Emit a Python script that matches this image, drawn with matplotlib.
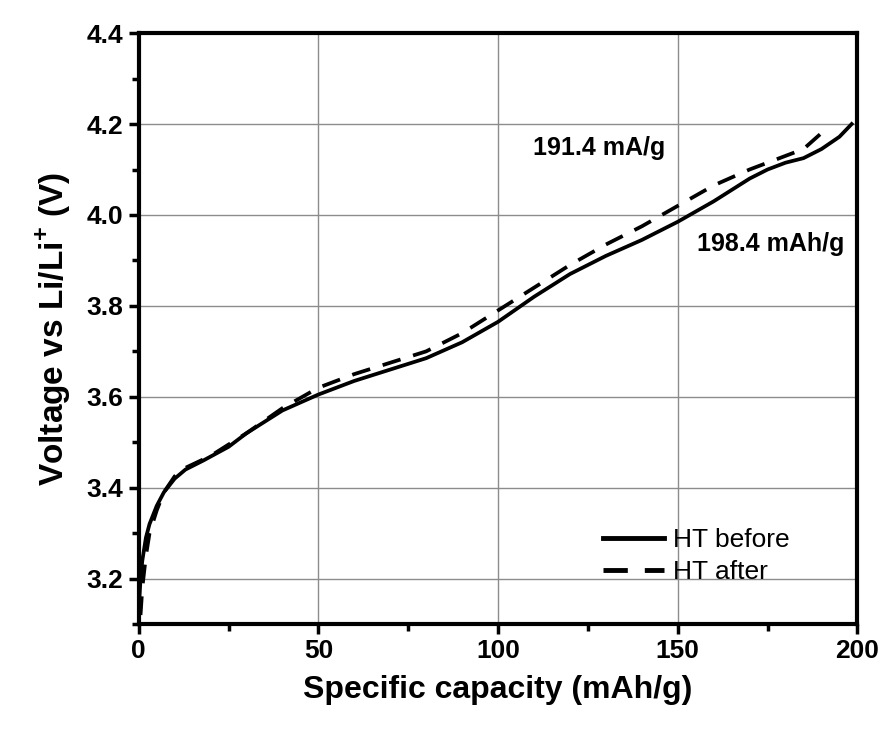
import matplotlib
matplotlib.use("Agg")
import matplotlib.pyplot as plt
import numpy as np
from matplotlib.ticker import MultipleLocator

plt.rcParams['font.family'] = ['Liberation Sans', 'DejaVu Sans']
plt.rcParams['mathtext.fontset'] = 'custom'
plt.rcParams['mathtext.rm'] = 'Liberation Sans'
plt.rcParams['mathtext.bf'] = 'Liberation Sans:bold'

# HT before (solid)
cap_before = [0, 0.5, 1, 2, 3, 5, 7, 10, 13, 18, 25, 30, 40, 50, 60, 70, 80, 90,
              100, 110, 120, 130, 140, 150, 160, 170, 175, 180, 185, 190, 195, 198.4]
v_before = [3.13, 3.2, 3.24, 3.29, 3.32, 3.36, 3.39, 3.42, 3.44, 3.46, 3.49, 3.52,
            3.57, 3.605, 3.635, 3.66, 3.685, 3.72, 3.765, 3.82, 3.87, 3.91, 3.945,
            3.985, 4.03, 4.08, 4.1, 4.115, 4.125, 4.145, 4.172, 4.2]
# HT after (dashed)
cap_after = [0.5, 1, 2, 3, 5, 7, 10, 12, 20, 30, 40, 50, 60, 70, 80, 90, 100, 110,
             120, 130, 140, 150, 160, 170, 180, 185, 191.4]
v_after = [3.12, 3.18, 3.25, 3.3, 3.35, 3.39, 3.425, 3.44, 3.47, 3.52, 3.575, 3.62,
           3.65, 3.675, 3.70, 3.74, 3.79, 3.84, 3.89, 3.935, 3.975, 4.02, 4.065,
           4.10, 4.13, 4.145, 4.19]

labels = ['HT before', 'HT after']
annot = [('191.4 mA/g', 128, 4.147), ('198.4 mAh/g', 176, 3.937)]

fig = plt.figure(figsize=(8.95, 7.36), dpi=100)
ax = fig.add_axes([0.155, 0.152, 0.803, 0.803])

ax.plot(cap_before, v_before, color='black', lw=2.7, label=labels[0])
ax.plot(cap_after, v_after, color='black', lw=2.7, ls=(0, (5, 3.5)), label=labels[1])

ax.set_xlim(0, 200)
ax.set_ylim(3.1, 4.4)
ax.xaxis.set_major_locator(MultipleLocator(50))
ax.xaxis.set_minor_locator(MultipleLocator(25))
ax.yaxis.set_major_locator(MultipleLocator(0.2))
ax.yaxis.set_minor_locator(MultipleLocator(0.1))
ax.yaxis.set_major_formatter(matplotlib.ticker.FormatStrFormatter('%.1f'))
ax.grid(True, which='major', color='#8c8c8c', lw=1)
ax.set_axisbelow(True)

for s in ax.spines.values():
    s.set_linewidth(3)
ax.tick_params(which='major', direction='out', length=7, width=2.5, labelsize=19, pad=4)
ax.tick_params(which='minor', direction='out', length=5, width=2.5)
for lab in ax.get_xticklabels() + ax.get_yticklabels():
    lab.set_fontweight('bold')

ax.set_xlabel('Specific capacity (mAh/g)', fontsize=23, fontweight='bold', labelpad=8)
ax.set_ylabel(r'Voltage vs Li/Li$^{\mathbf{+}}$ (V)', fontsize=24, fontweight='bold', labelpad=10)

for t, x, y in annot:
    ax.text(x, y, t, fontsize=18, fontweight='bold', ha='center', va='center')

leg = ax.legend(loc='upper left', bbox_to_anchor=(0.632, 0.18), frameon=False,
                fontsize=19, handlelength=2.3, handletextpad=0.35, labelspacing=0.3,
                borderaxespad=0)
for ln in leg.get_lines():
    ln.set_linewidth(3.5)

fig.savefig('out.png', dpi=100)
